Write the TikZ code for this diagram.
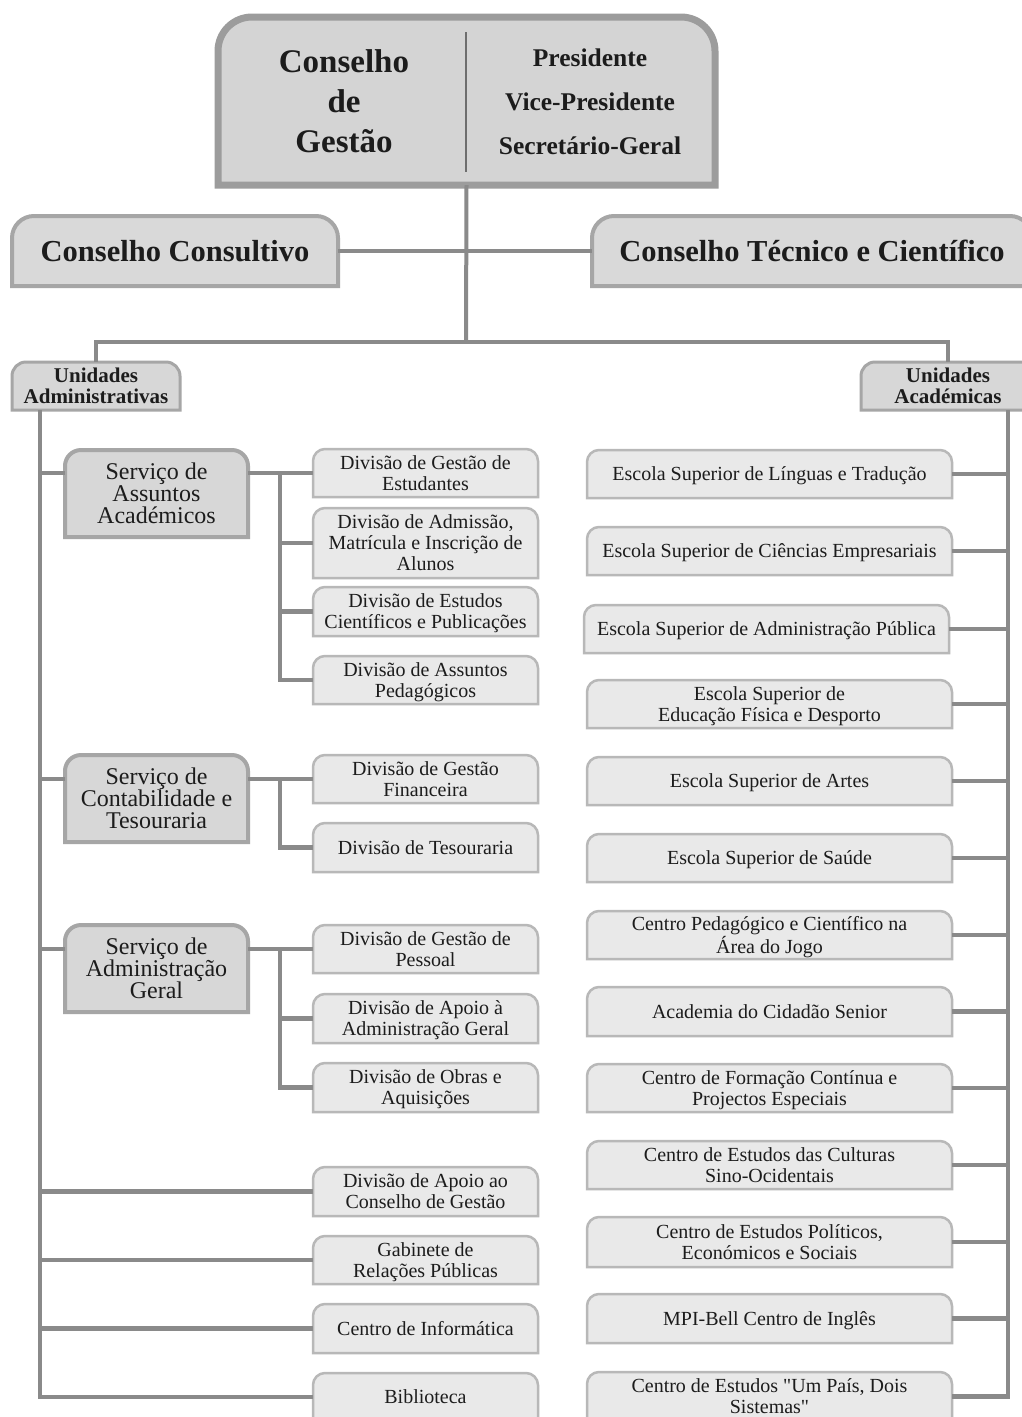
\documentclass[tikz,border=0pt]{standalone}
\usepackage{fontspec}
\setmainfont{Liberation Serif}[Ligatures=TeXOff]
\definecolor{linec}{HTML}{8A8A8A}
\definecolor{topedge}{HTML}{9C9C9C}
\definecolor{topfill}{HTML}{D4D4D4}
\definecolor{midedge}{HTML}{A6A6A6}
\definecolor{midfill}{HTML}{D7D7D7}
\definecolor{smalledge}{HTML}{B8B8B8}
\definecolor{smallfill}{HTML}{E9E9E9}
\definecolor{txt}{HTML}{1C1C1C}
\definecolor{divc}{HTML}{6E6E6E}
% #1 name, #2 radius, #3 shape style, #4 x1, #5 y1, #6 x2, #7 y2 (pixels, y downwards), #8 text style, #9 text
\newcommand\ubox[9]{%
  \path[#3] (#4,-#7) -- (#4,-#5-#2) arc[start angle=180,end angle=90,radius=#2pt]
    -- (#6-#2,-#5) arc[start angle=90,end angle=0,radius=#2pt] -- (#6,-#7) -- cycle;
  \node[#8, inner sep=0pt, minimum width={(#6-#4)*1pt}, minimum height={(#7-#5)*1pt}]
    (#1) at ({(#4+#6)/2},{-(#5+#7)/2}) {#9};
}
\tikzset{
  conn/.style={draw=linec, line width=4.5pt},
  topshape/.style={draw=topedge, fill=topfill, line width=7pt},
  bigshape/.style={draw=midedge, fill=midfill!95!white, line width=4pt},
  unitshape/.style={draw=midedge, fill=midfill, line width=3pt},
  servshape/.style={draw=midedge, fill=midfill, line width=4pt},
  smallshape/.style={draw=smalledge, fill=smallfill, line width=2.5pt},
  basetxt/.style={align=center, text=txt},
  bigtxt/.style={basetxt, font=\fontsize{30.5}{34}\selectfont\bfseries},
  unittxt/.style={basetxt, font=\fontsize{21}{21.5}\selectfont\bfseries},
  servtxt/.style={basetxt, font=\fontsize{24}{22}\selectfont},
  smalltxt/.style={basetxt, font=\fontsize{20}{21}\selectfont, text depth=0pt},
}
\begin{document}
\begin{tikzpicture}[x=1pt,y=1pt]
\useasboundingbox (0,0) rectangle (1021,-1417);
\fill[white] (0,0) rectangle (1021,-1417);

% ---------- top ----------
\ubox{cg}{34}{topshape}{218}{17}{715}{185}{basetxt}{}
\draw[divc, line width=1.6pt] (466,-32) -- (466,-172);
\node[basetxt, font=\fontsize{33}{40}\selectfont\bfseries] (cgl) at (344,-101) {Conselho\\de\\Gestão};
\node[basetxt, font=\fontsize{25.5}{44}\selectfont\bfseries] (cgr) at (590,-101.5) {Presidente\\Vice-Presidente\\Secretário-Geral};

\ubox{cc}{22}{bigshape}{12}{216}{338}{286}{bigtxt}{Conselho Consultivo}
\ubox{ctc}{22}{bigshape}{592}{216}{1032}{286}{bigtxt}{Conselho Técnico e Científico}

\ubox{ua}{14}{unitshape}{12}{362}{180}{410}{unittxt}{Unidades\\Administrativas}
\ubox{uac}{14}{unitshape}{861}{362}{1035}{410}{unittxt}{Unidades\\Académicas}

% ---------- services ----------
\ubox{saa}{16}{servshape}{65}{450}{248}{537}{servtxt}{Serviço de\\Assuntos\\Académicos}
\ubox{sct}{16}{servshape}{65}{755}{248}{842}{servtxt}{Serviço de\\Contabilidade e\\Tesouraria}
\ubox{sag}{16}{servshape}{65}{925}{248}{1012}{servtxt}{Serviço de\\Administração\\Geral}

% ---------- divisions (left) ----------
\ubox{d1}{12}{smallshape}{313}{449}{538}{497}{smalltxt}{Divisão de Gestão de\\Estudantes}
\ubox{d2}{12}{smallshape}{313}{508}{538}{578}{smalltxt}{Divisão de Admissão,\\Matrícula e Inscrição de\\Alunos}
\ubox{d3}{12}{smallshape}{313}{587}{538}{636}{smalltxt}{Divisão de Estudos\\Científicos e Publicações}
\ubox{d4}{12}{smallshape}{313}{656}{538}{704}{smalltxt}{Divisão de Assuntos\\Pedagógicos}
\ubox{d5}{12}{smallshape}{313}{755}{538}{803}{smalltxt}{Divisão de Gestão\\Financeira}
\ubox{d6}{12}{smallshape}{313}{823}{538}{872}{smalltxt}{Divisão de Tesouraria}
\ubox{d7}{12}{smallshape}{313}{925}{538}{973}{smalltxt}{Divisão de Gestão de\\Pessoal}
\ubox{d8}{12}{smallshape}{313}{994}{538}{1043}{smalltxt}{Divisão de Apoio à\\Administração Geral}
\ubox{d9}{12}{smallshape}{313}{1063}{538}{1112}{smalltxt}{Divisão de Obras e\\Aquisições}
\ubox{d10}{12}{smallshape}{313}{1167}{538}{1216}{smalltxt}{Divisão de Apoio ao\\Conselho de Gestão}
\ubox{d11}{12}{smallshape}{313}{1236}{538}{1284}{smalltxt}{Gabinete de\\Relações Públicas}
\ubox{d12}{12}{smallshape}{313}{1304}{538}{1353}{smalltxt}{Centro de Informática}
\ubox{d13}{12}{smallshape}{313}{1373}{538}{1421}{smalltxt}{Biblioteca}

% ---------- academic units (right) ----------
\ubox{a1}{12}{smallshape}{587}{450}{952}{498}{smalltxt}{Escola Superior de Línguas e Tradução}
\ubox{a2}{12}{smallshape}{587}{527}{952}{575}{smalltxt}{Escola Superior de Ciências Empresariais}
\ubox{a3}{12}{smallshape}{584}{605}{949}{653}{smalltxt}{Escola Superior de Administração Pública}
\ubox{a4}{12}{smallshape}{587}{680}{952}{728}{smalltxt}{Escola Superior de\\Educação Física e Desporto}
\ubox{a5}{12}{smallshape}{587}{757}{952}{805}{smalltxt}{Escola Superior de Artes}
\ubox{a6}{12}{smallshape}{587}{834}{952}{882}{smalltxt}{Escola Superior de Saúde}
\ubox{a7}{12}{smallshape}{587}{911}{952}{959}{smalltxt}{Centro Pedagógico e Científico na\\Área do Jogo}
\ubox{a8}{12}{smallshape}{587}{987}{952}{1036}{smalltxt}{Academia do Cidadão Senior}
\ubox{a9}{12}{smallshape}{587}{1064}{952}{1112}{smalltxt}{Centro de Formação Contínua e\\Projectos Especiais}
\ubox{a10}{12}{smallshape}{587}{1141}{952}{1189}{smalltxt}{Centro de Estudos das Culturas\\Sino-Ocidentais}
\ubox{a11}{12}{smallshape}{587}{1217}{952}{1267}{smalltxt}{Centro de Estudos Políticos,\\Económicos e Sociais}
\ubox{a12}{12}{smallshape}{587}{1294}{952}{1343}{smalltxt}{MPI-Bell Centro de Inglês}
\ubox{a13}{12}{smallshape}{587}{1372}{952}{1421}{smalltxt}{Centro de Estudos "Um País, Dois\\Sistemas"}

% ---------- connectors ----------
\coordinate (hub) at (466,-342);
\coordinate (tlx) at (40,0);
\coordinate (trx) at (1008,0);
\coordinate (bxa) at (280,0);

\draw[conn, line width=4pt] (cg.south) -- (hub);
\draw[conn] (cc.east) -- (ctc.west);
\draw[conn] (ua.north) |- (hub) -| (uac.north);

% left trunk
\draw[conn] (ua.south -| tlx) |- (d13.west);
\draw[conn] (tlx |- d1.west) -- (saa.west |- d1.west);
\draw[conn] (tlx |- d5.west) -- (sct.west |- d5.west);
\draw[conn] (tlx |- d7.west) -- (sag.west |- d7.west);
\draw[conn] (tlx |- d10.west) -- (d10.west);
\draw[conn] (tlx |- d11.west) -- (d11.west);
\draw[conn] (tlx |- d12.west) -- (d12.west);

% service buses
\draw[conn] (saa.east |- d1.west) -- (d1.west);
\draw[conn] (bxa |- d1.west) |- (d4.west);
\draw[conn] (bxa |- d2.west) -- (d2.west);
\draw[conn] (bxa |- d3.west) -- (d3.west);

\draw[conn] (sct.east |- d5.west) -- (d5.west);
\draw[conn] (bxa |- d5.west) |- (d6.west);

\draw[conn] (sag.east |- d7.west) -- (d7.west);
\draw[conn] (bxa |- d7.west) |- (d9.west);
\draw[conn] (bxa |- d8.west) -- (d8.west);

% right trunk
\draw[conn] (uac.south -| trx) |- (a13.east);
\foreach \i in {1,...,12} {
  \draw[conn] (a\i.east) -- (trx |- a\i.east);
}
\end{tikzpicture}
\end{document}
